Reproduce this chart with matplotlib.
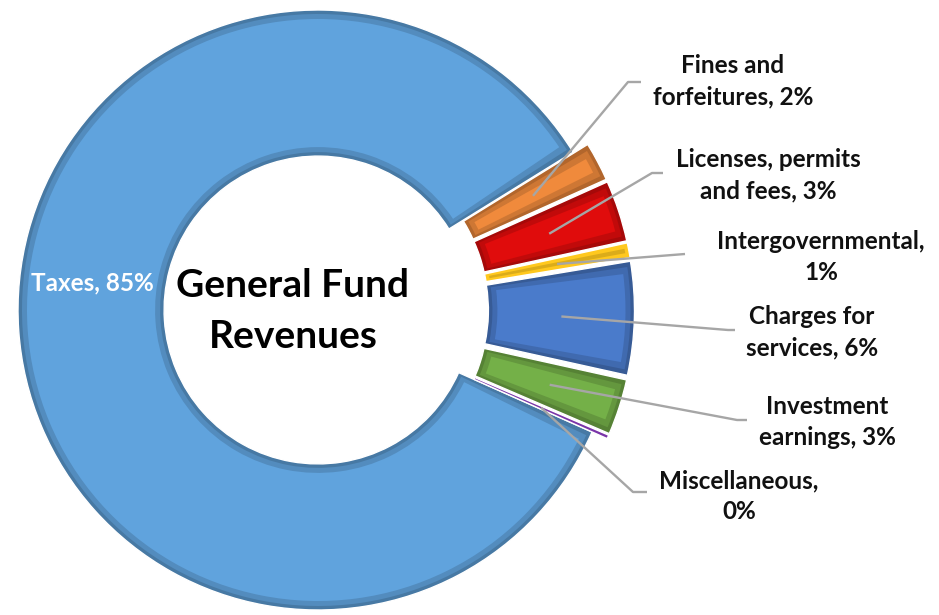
import numpy as np
import matplotlib
matplotlib.use("Agg")
import matplotlib.pyplot as plt
from matplotlib.patches import Wedge
import matplotlib.colors as mcolors

# ---- data ----
categories = ["Taxes", "Fines and\nforfeitures", "Licenses, permits\nand fees",
              "Intergovernmental", "Charges for\nservices", "Investment\nearnings",
              "Miscellaneous"]
values = [84.6, 2.1, 3.3, 0.8, 6.1, 3.0, 0.2]
separators = [", ", ", ", ", ", ",\n", ", ", ", ", ",\n"]
colors = ["#60A3DD", "#F08A3C", "#E00C0C", "#FFC81E", "#4A7BCB", "#74B048", "#7A35A8"]
explode = [0.0, 0.055, 0.055, 0.055, 0.055, 0.055, 0.055]
title = "General Fund\nRevenues"

# ---- layout ----
W, H = 939, 615
CX, CY, R = 318, 310, 300.0     # pixel centre and radius of doughnut
RING = 0.487                     # ring width as fraction of radius

def P(x, y):
    """pixel position -> axes data units (radius = 1)."""
    return ((x - CX) / R, (CY - y) / R)

FONT = ["Lato", "DejaVu Sans"]

fig = plt.figure(figsize=(W / 100, H / 100), dpi=100)
ax = fig.add_axes([0, 0, 1, 1])

def shade(c, f):
    r, g, b = mcolors.to_rgb(c)
    return (r * f, g * f, b * f)

wedges, _ = ax.pie(values, colors=[shade(c, 0.74) for c in colors], startangle=-24,
                   counterclock=False, explode=explode, radius=1.0,
                   wedgeprops=dict(width=RING, edgecolor="white", linewidth=1.0))
ax.set_xlim(-CX / R, (W - CX) / R)
ax.set_ylim(-(H - CY) / R, CY / R)
ax.set_aspect("equal")
ax.axis("off")

# bevel-like inset in the base colour (two steps for a softer edge)
for inset_px, f in ((4.0, 0.86), (9.0, 1.0)):
    inset = inset_px / R
    for w, c in zip(wedges, colors):
        t1, t2 = w.theta1, w.theta2
        rmid = w.r - w.width / 2
        dth = np.degrees(inset / rmid)
        if (t2 - t1) > 2.5 * dth:
            ax.add_patch(Wedge(w.center, w.r - inset, t1 + dth, t2 - dth,
                               width=w.width - 2 * inset, facecolor=shade(c, f),
                               edgecolor="none"))
        elif f == 1.0:
            w.set_facecolor(c)

# centre title
ax.text(*P(293, 311), title, ha="center", va="center", fontsize=28,
        fontweight="bold", family=FONT, color="black", linespacing=1.55)

# labels
label_pos = [(92, 283), (733, 81), (768, 175), (821, 257), (812, 332), (827, 422), (739, 496)]
elbow = [None, (628, 82), (652, 173), None, (728, 330), (737, 420), (633, 492)]
line_end = [None, (641, 82), (663, 173), (685, 254), (735, 330), (747, 420), (647, 492)]

for i, (w, name, sep, v) in enumerate(zip(wedges, categories, separators, values)):
    txt = f"{name}{sep}{round(v):.0f}%"
    col = "white" if i == 0 else "#111111"
    ax.text(*P(*label_pos[i]), txt, ha="center", va="center", fontsize=17.5,
            fontweight="bold", family=FONT, color=col, linespacing=1.42)
    if i == 0:
        continue
    thm = np.radians((w.theta1 + w.theta2) / 2)
    rm = w.r - w.width / 2
    ax0 = w.center[0] + rm * np.cos(thm)
    ay0 = w.center[1] + rm * np.sin(thm)
    xs, ys = [ax0], [ay0]
    for pt in (elbow[i], line_end[i]):
        if pt is not None:
            px, py = P(*pt)
            xs.append(px); ys.append(py)
    ax.plot(xs, ys, color="#A6A6A6", lw=1.7, solid_capstyle="butt")

fig.savefig("out.png", dpi=100)
